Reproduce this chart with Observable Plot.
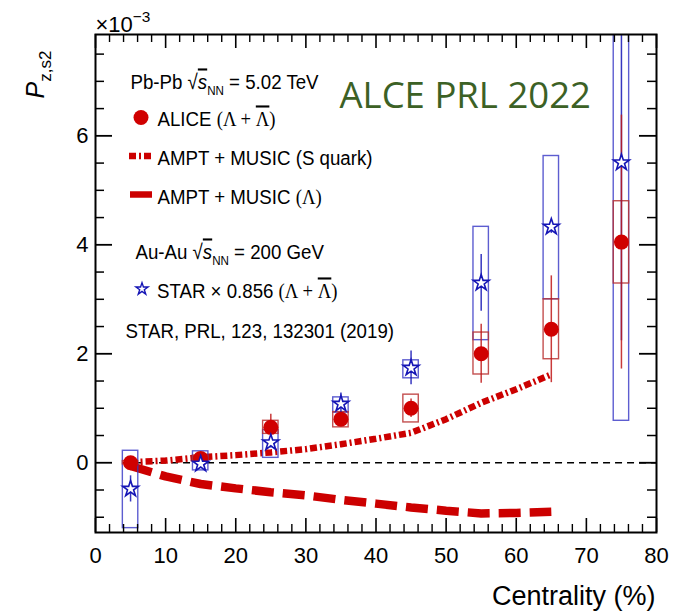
<!DOCTYPE html>
<html>
<head>
<meta charset="utf-8">
<script src="https://cdn.jsdelivr.net/npm/d3@7"></script>
<script src="https://cdn.jsdelivr.net/npm/@observablehq/plot@0.6"></script>
<style>
  html, body { margin: 0; padding: 0; background: #fff; }
  #chart svg { display: block; }
</style>
</head>
<body>
<div id="chart"></div>
<script>
// Centrality classes (%)
const centrality = [5, 15, 25, 35, 45, 55, 65, 75];

// ALICE Pb-Pb 5.02 TeV, P_z,s2 in units of 1e-3
const aliceValue   = [0.00, 0.08, 0.65, 0.80, 1.00, 2.00, 2.45, 4.05];
const aliceStat    = [0.05, 0.08, 0.24, 0.08, 0.17, 0.54, 0.98, 2.33];
const aliceSysLow  = [-0.03, 0.03, 0.53, 0.65, 0.74, 1.62, 1.90, 3.29];
const aliceSysHigh = [0.03, 0.13, 0.77, 0.93, 1.25, 2.39, 3.00, 4.80];

// STAR Au-Au 200 GeV, scaled by 0.856
const starValue   = [-0.48, -0.02, 0.37, 1.08, 1.74, 3.30, 4.33, 5.51];
const starStat    = [0.24, 0.08, 0.10, 0.20, 0.31, 0.52, 0.12, 3.27];
const starSysLow  = [-1.20, -0.14, 0.09, 0.92, 1.55, 2.25, 3.00, 0.77];
const starSysHigh = [0.22, 0.21, 0.60, 1.20, 1.88, 4.33, 5.63, 10.2];

// AMPT + MUSIC model curves
const modelCentrality = [5, 10, 15, 20, 25, 30, 35, 40, 45, 50, 55, 60, 65];
const amptSQuark = [0.01, 0.04, 0.10, 0.14, 0.19, 0.25, 0.34, 0.44, 0.55, 0.80, 1.10, 1.35, 1.62];
const amptLambda = [-0.06, -0.25, -0.39, -0.47, -0.54, -0.60, -0.68, -0.75, -0.82, -0.88, -0.93, -0.92, -0.90];

// Axis ticks
const xTicks = [0, 10, 20, 30, 40, 50, 60, 70, 80];
const yTicks = [0, 2, 4, 6];
const xMinorTicks = d3.range(0, 81, 2).filter(v => v % 10 !== 0);
const yMinorTicks = d3.range(-1, 8, 0.5).filter(v => v % 2 !== 0);

// Layout
const W = 674, H = 613;
const M = {top: 34, right: 18, bottom: 81, left: 95};
const innerW = W - M.left - M.right;
const innerH = H - M.top - M.bottom;
const xDomain = [0, 80];
const yDomain = [-1.28, 7.86];
const boxHalf = 1.1;

// pixel position inside the svg -> data coordinates (used for legend / annotation placement)
const px2x = px => xDomain[0] + (px - M.left) / innerW * (xDomain[1] - xDomain[0]);
const px2y = py => yDomain[1] - (py - M.top) / innerH * (yDomain[1] - yDomain[0]);

const RED = "#d00000";
const BLUE = "#1515b5";
const dashDot = {stroke: "#cc0000", strokeWidth: 6.5, strokeDasharray: "7,3,2,3", strokeLinecap: "butt"};
const dashed = {stroke: "#cc0000", strokeWidth: 8.5, strokeDasharray: "22,9", strokeLinecap: "butt"};

const alice = centrality.map((c, i) => ({c, v: aliceValue[i], s: aliceStat[i], lo: aliceSysLow[i], hi: aliceSysHigh[i]}));
const star = centrality.map((c, i) => ({c, v: starValue[i], s: starStat[i], lo: starSysLow[i], hi: starSysHigh[i]}));
const model = modelCentrality.map((c, i) => ({c, sq: amptSQuark[i], lam: amptLambda[i]}));

// legend / annotation strings
const T = {
  pbpb: "Pb-Pb √sNN = 5.02 TeV",
  alice: "ALICE (Λ + Λ̄)",
  squark: "AMPT + MUSIC (S quark)",
  lambda: "AMPT + MUSIC (Λ)",
  auau: "Au-Au √sNN = 200 GeV",
  star: "STAR × 0.856 (Λ + Λ̄)",
  ref: "STAR, PRL, 123, 132301 (2019)",
  ylab: "Pz,s2",
  scale: "×10−3",
  xlab: "Centrality (%)",
  tag: "ALCE PRL 2022"
};

const legendText = (s, px, py, extra = {}) =>
  Plot.text([s], {x: px2x(px), y: px2y(py), text: d => d, textAnchor: "start", lineAnchor: "bottom", fontSize: 21, ...extra});

const tickLen = {xMajor: 14, xMinor: 8, yMajor: 17, yMinor: 9};

const chart = Plot.plot({
  width: W, height: H,
  marginTop: M.top, marginRight: M.right, marginBottom: M.bottom, marginLeft: M.left,
  style: {fontFamily: "'Liberation Sans', Arial, sans-serif", fontSize: "22px", color: "black", background: "white", overflow: "visible"},
  x: {domain: xDomain, ticks: xTicks, tickSize: 0, tickPadding: 15, label: null},
  y: {domain: yDomain, ticks: yTicks, tickSize: 0, tickPadding: 7, label: null},
  marks: [
    // zero reference
    Plot.ruleY([0], {x1: 4, x2: 80, stroke: "black", strokeWidth: 1.6, strokeDasharray: "7,5"}),

    // model curves
    Plot.line(model, {x: "c", y: "sq", ...dashDot, strokeLinejoin: "miter"}),
    Plot.line(model, {x: "c", y: "lam", ...dashed, strokeLinejoin: "miter"}),

    // systematic boxes
    Plot.rect(star, {x1: d => d.c - boxHalf, x2: d => d.c + boxHalf, y1: "lo", y2: "hi", fill: "none", stroke: "#3434c4", strokeOpacity: 0.8, strokeWidth: 1.4, clip: true}),
    Plot.rect(alice, {x1: d => d.c - boxHalf, x2: d => d.c + boxHalf, y1: "lo", y2: "hi", fill: "none", stroke: "#b83030", strokeOpacity: 0.85, strokeWidth: 1.4, clip: true}),

    // statistical errors
    Plot.ruleX(star, {x: "c", y1: d => d.v - d.s, y2: d => d.v + d.s, stroke: BLUE, strokeWidth: 1.5, strokeOpacity: 0.85, clip: true}),
    Plot.ruleX(alice, {x: "c", y1: d => d.v - d.s, y2: d => d.v + d.s, stroke: "#c01818", strokeWidth: 1.5, strokeOpacity: 0.85, clip: true}),

    // data points
    Plot.dot(alice, {x: "c", y: "v", r: 7.5, fill: RED, stroke: "none"}),
    Plot.dot(star, {x: "c", y: "v", symbol: "star", r: 5, fill: "white", stroke: BLUE, strokeWidth: 1.6}),

    // inward ticks: bottom, top
    Plot.tickX(xTicks, {x: d => d, insetTop: innerH - tickLen.xMajor, stroke: "black", strokeWidth: 1.6}),
    Plot.tickX(xMinorTicks, {x: d => d, insetTop: innerH - tickLen.xMinor, stroke: "black", strokeWidth: 1.4}),
    Plot.tickX(xTicks, {x: d => d, insetBottom: innerH - tickLen.xMajor, stroke: "black", strokeWidth: 1.6}),
    Plot.tickX(xMinorTicks, {x: d => d, insetBottom: innerH - tickLen.xMinor, stroke: "black", strokeWidth: 1.4}),
    // inward ticks: left, right
    Plot.tickY(yTicks, {y: d => d, insetRight: innerW - tickLen.yMajor, stroke: "black", strokeWidth: 1.8}),
    Plot.tickY(yMinorTicks, {y: d => d, insetRight: innerW - tickLen.yMinor, stroke: "black", strokeWidth: 1.5}),
    Plot.tickY(yTicks, {y: d => d, insetLeft: innerW - tickLen.yMajor, stroke: "black", strokeWidth: 1.8}),
    Plot.tickY(yMinorTicks, {y: d => d, insetLeft: innerW - tickLen.yMinor, stroke: "black", strokeWidth: 1.5}),

    Plot.frame({stroke: "black", strokeWidth: 2}),

    // legend
    legendText(T.pbpb, 130, 88),
    Plot.dot([0], {x: px2x(140.5), y: px2y(117), r: 7.5, fill: RED}),
    legendText(T.alice, 157, 125),
    Plot.ruleY([px2y(155.5)], {x1: px2x(129), x2: px2x(152), ...dashDot}),
    legendText(T.squark, 157, 164),
    Plot.ruleY([px2y(194)], {x1: px2x(130), x2: px2x(152), stroke: "#cc0000", strokeWidth: 6.5, strokeLinecap: "butt"}),
    legendText(T.lambda, 157, 203),
    legendText(T.auau, 135, 258),
    Plot.dot([0], {x: px2x(141.5), y: px2y(288.5), symbol: "star", r: 3.8, fill: "white", stroke: BLUE, strokeWidth: 1.4}),
    legendText(T.star, 156.5, 297),
    legendText(T.ref, 125, 337),

    // annotations
    Plot.text([T.tag], {x: px2x(339), y: px2y(107), text: d => d, textAnchor: "start", lineAnchor: "bottom", fontSize: 36.5, fill: "#3c6125", fontFamily: "'Open Sans', sans-serif"}),
    Plot.text([T.xlab], {x: px2x(655), y: px2y(604), text: d => d, textAnchor: "end", lineAnchor: "bottom", fontSize: 27}),
    Plot.text([T.scale], {x: px2x(95), y: px2y(31), text: d => d, textAnchor: "start", lineAnchor: "bottom", fontSize: 22}),
    Plot.text([T.ylab], {x: px2x(43), y: px2y(98), text: d => d, textAnchor: "start", lineAnchor: "bottom", rotate: -90, fontSize: 25})
  ]
});

document.getElementById("chart").appendChild(chart);

// rich text: sub/superscripts, italics, serif Greek and overbars
const serif = "'Liberation Serif', 'Times New Roman', serif";
const rich = {
  [T.pbpb]: [{t: "Pb-Pb "}, {t: "√"}, {t: "s", italic: true, over: true}, {t: "NN", sub: true, size: 0.62}, {t: " = 5.02 TeV"}],
  [T.auau]: [{t: "Au-Au "}, {t: "√"}, {t: "s", italic: true, over: true}, {t: "NN", sub: true, size: 0.62}, {t: " = 200 GeV"}],
  [T.alice]: [{t: "ALICE "}, {t: "(Λ + ", serif: true}, {t: "Λ", serif: true, over: true}, {t: ")", serif: true}],
  [T.lambda]: [{t: "AMPT + MUSIC "}, {t: "(Λ)", serif: true}],
  [T.star]: [{t: "STAR × 0.856 "}, {t: "(Λ + ", serif: true}, {t: "Λ", serif: true, over: true}, {t: ")", serif: true}],
  [T.ylab]: [{t: "P", italic: true}, {t: "z,s2", sub: true, size: 0.68}],
  [T.scale]: [{t: "×10"}, {t: "−3", sup: true, size: 0.7}]
};
const condensed = new Set([T.pbpb, T.alice, T.squark, T.lambda, T.auau, T.star, T.ref]);

chart.querySelectorAll("text").forEach(el => {
  const key = el.textContent;
  if (rich[key]) {
    const base = parseFloat(getComputedStyle(el).fontSize) || 21;
    const sel = d3.select(el);
    sel.text(null);
    let shift = 0;
    for (const p of rich[key]) {
      const ts = sel.append("tspan").text(p.t);
      const target = p.sub ? base * 0.3 : p.sup ? -base * 0.42 : 0;
      if (target !== shift) { ts.attr("dy", target - shift); shift = target; }
      if (p.size) ts.attr("font-size", base * p.size);
      if (p.italic) ts.attr("font-style", "italic");
      if (p.serif) ts.attr("font-family", serif);
      if (p.over) ts.style("text-decoration", "overline");
    }
  }
  if (condensed.has(key)) {
    if (el.hasAttribute("x") && !el.hasAttribute("transform")) {
      const x = el.getAttribute("x"), y = el.getAttribute("y") || 0;
      el.removeAttribute("x"); el.removeAttribute("y");
      el.setAttribute("transform", `translate(${x},${y})`);
    }
    el.setAttribute("transform", (el.getAttribute("transform") || "") + " scale(0.89,1)");
  }
});
</script>
</body>
</html>
